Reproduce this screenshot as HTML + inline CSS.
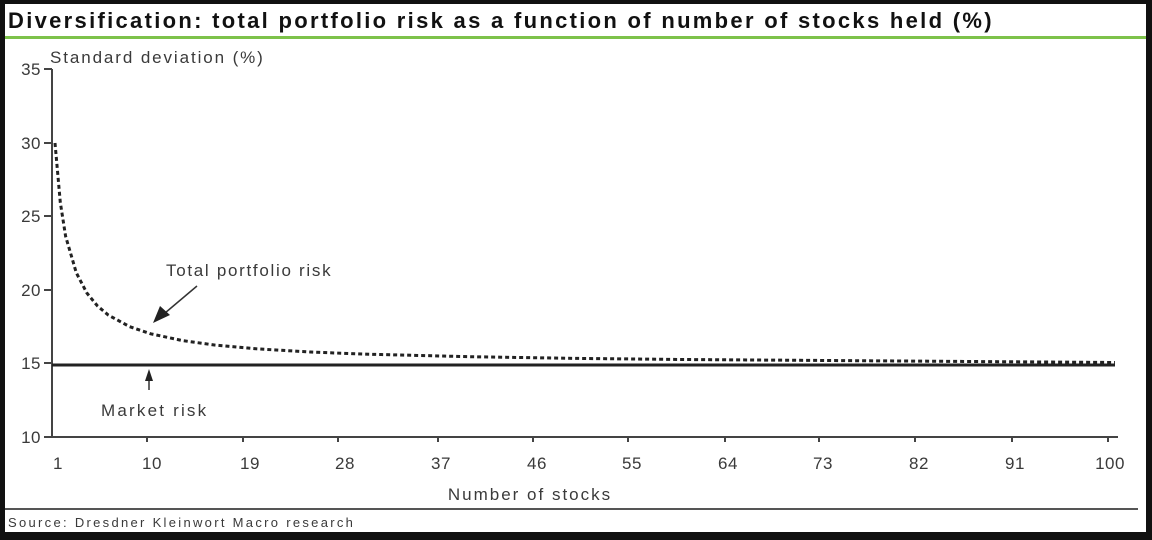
<!DOCTYPE html>
<html><head><meta charset="utf-8"><style>
html,body{margin:0;padding:0;background:#000;}
svg{display:block;}
text{font-family:"Liberation Sans",sans-serif;fill:#3a3a3a;}
</style></head><body>
<svg width="1152" height="540" viewBox="0 0 1152 540" xmlns="http://www.w3.org/2000/svg">
<rect x="0" y="0" width="1152" height="540" fill="#111"/>
<rect x="5" y="4" width="1141" height="528" fill="#fff"/>
<text x="8" y="28" font-size="22" font-weight="bold" letter-spacing="2.3" style="fill:#111">Diversification: total portfolio risk as a function of number of stocks held (%)</text>
<line x1="5" y1="37.5" x2="1146" y2="37.5" stroke="#7dc24a" stroke-width="3"/>
<text x="50" y="63" font-size="17" letter-spacing="1.9">Standard deviation (%)</text>
<line x1="52" y1="69" x2="52" y2="437" stroke="#444" stroke-width="2"/>
<line x1="52" y1="437" x2="1118" y2="437" stroke="#444" stroke-width="2"/>
<g stroke="#444" stroke-width="2">
<line x1="44" y1="69" x2="52" y2="69"/><line x1="44" y1="143" x2="52" y2="143"/><line x1="44" y1="216" x2="52" y2="216"/><line x1="44" y1="290" x2="52" y2="290"/><line x1="44" y1="363" x2="52" y2="363"/><line x1="44" y1="437" x2="52" y2="437"/>
</g>
<g font-size="17" text-anchor="end" letter-spacing="0.5">
<text x="41" y="75">35</text><text x="41" y="149">30</text><text x="41" y="222">25</text><text x="41" y="296">20</text><text x="41" y="369">15</text><text x="41" y="443">10</text>
</g>
<g stroke="#444" stroke-width="2">
<line x1="147" y1="437" x2="147" y2="442"/><line x1="243" y1="437" x2="243" y2="442"/><line x1="338" y1="437" x2="338" y2="442"/><line x1="438" y1="437" x2="438" y2="442"/><line x1="533" y1="437" x2="533" y2="442"/><line x1="628" y1="437" x2="628" y2="442"/><line x1="725" y1="437" x2="725" y2="442"/><line x1="819" y1="437" x2="819" y2="442"/><line x1="915" y1="437" x2="915" y2="442"/><line x1="1012" y1="437" x2="1012" y2="442"/><line x1="1108" y1="437" x2="1108" y2="442"/>
</g>
<g font-size="17" text-anchor="middle" letter-spacing="0.5">
<text x="58" y="469">1</text><text x="152" y="469">10</text><text x="250" y="469">19</text><text x="345" y="469">28</text><text x="441" y="469">37</text><text x="537" y="469">46</text><text x="632" y="469">55</text><text x="728" y="469">64</text><text x="823" y="469">73</text><text x="919" y="469">82</text><text x="1015" y="469">91</text><text x="1110" y="469">100</text>
</g>
<text x="530" y="500" font-size="17" text-anchor="middle" letter-spacing="2">Number of stocks</text>
<line x1="52" y1="365" x2="1115" y2="365" stroke="#222" stroke-width="3"/>
<path d="M55,143 L60.3,202.4 L65.6,236.2 L76.3,272.8 L86.9,293.1 L97.5,306 L108.2,315 L129.5,326.6 L150.7,333.8 L182.6,340.6 L214.5,345 L256.3,348.8 L310.3,352 L363.4,354.1 L469.8,356.7 L576.2,358.4 L682.5,359.5 L842,360.6 L1115,362.5" fill="none" stroke="#222" stroke-width="3" stroke-dasharray="4,3"/>
<text x="166" y="276" font-size="17" letter-spacing="1.7">Total portfolio risk</text>
<line x1="197" y1="286" x2="165" y2="313" stroke="#333" stroke-width="1.5"/>
<polygon points="153,323 160,306 170,315" fill="#222"/>
<line x1="149" y1="390" x2="149" y2="378" stroke="#333" stroke-width="1.5"/>
<polygon points="149,369 145,381 153,381" fill="#222"/>
<text x="101" y="416" font-size="17" letter-spacing="2.2">Market risk</text>
<line x1="5" y1="509" x2="1138" y2="509" stroke="#555" stroke-width="2"/>
<text x="8" y="527" font-size="13" letter-spacing="2.3">Source: Dresdner Kleinwort Macro research</text>
</svg>
</body></html>
